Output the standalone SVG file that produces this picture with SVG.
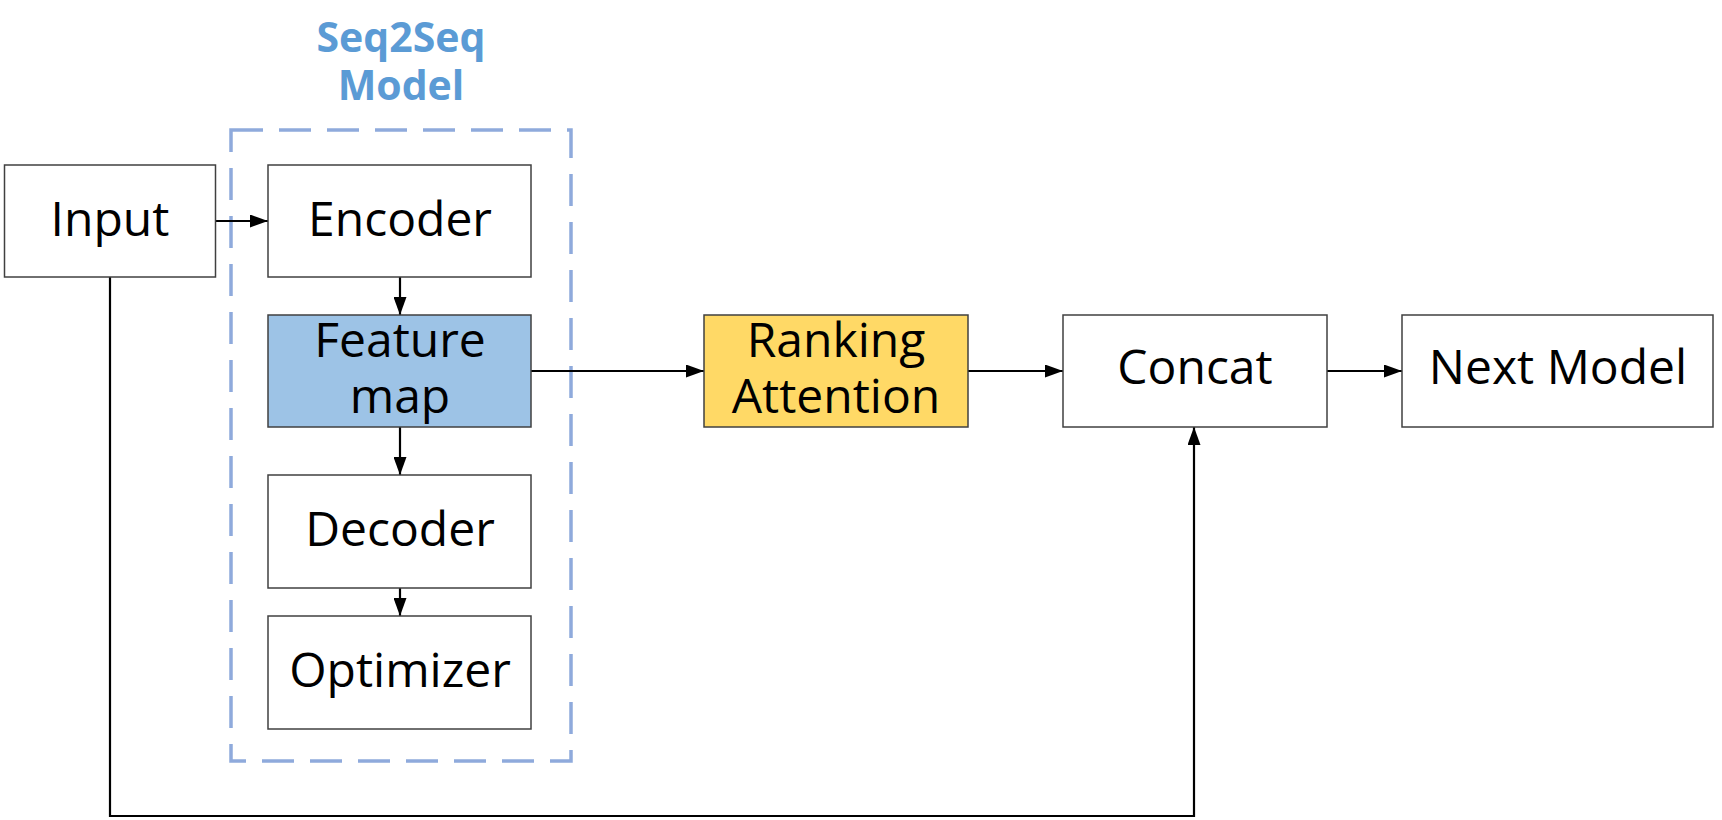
<svg xmlns="http://www.w3.org/2000/svg" width="1722" height="820" viewBox="0 0 1722 820">
<defs>
<marker id="arr" markerUnits="userSpaceOnUse" markerWidth="18" markerHeight="13" refX="18" refY="6.5" orient="auto">
<path d="M0,0 L18,6.5 L0,13 Z" fill="#000"/>
</marker>
</defs>
<style>
.box{stroke:#404040;stroke-width:1.5;fill:#fff}
.t{font-family:"Open Sans","Noto Sans","Liberation Sans",sans-serif;font-size:48px;fill:#000;text-anchor:middle}
.title{font-family:"Open Sans","Noto Sans","Liberation Sans",sans-serif;font-size:41px;font-weight:bold;fill:#5B9BD5;text-anchor:middle}
.c{stroke:#000;stroke-width:2.2;fill:none}
</style>
<rect width="1722" height="820" fill="#fff"/>
<g id="group-seq2seq">
<rect x="231" y="130" width="340" height="631" fill="none" stroke="#8FAADC" stroke-width="3.5" stroke-dasharray="32 16"/>
<text class="title" x="401" y="52">Seq2Seq</text>
<text class="title" x="401" y="100">Model</text>
</g>
<g id="connectors">
<line class="c" x1="216" y1="221" x2="268" y2="221" marker-end="url(#arr)"/>
<line class="c" x1="400" y1="277" x2="400" y2="315" marker-end="url(#arr)"/>
<line class="c" x1="400" y1="427" x2="400" y2="475" marker-end="url(#arr)"/>
<line class="c" x1="400" y1="588" x2="400" y2="616" marker-end="url(#arr)"/>
<line class="c" x1="531" y1="371" x2="704" y2="371" marker-end="url(#arr)"/>
<line class="c" x1="968" y1="371" x2="1063" y2="371" marker-end="url(#arr)"/>
<line class="c" x1="1327" y1="371" x2="1402" y2="371" marker-end="url(#arr)"/>
<path class="c" d="M110,277 V816 H1194 V427" marker-end="url(#arr)" stroke-width="2.6"/>
</g>
<g id="input">
<rect class="box" x="4.5" y="165" width="211" height="112"/>
<text class="t" x="110" y="236">Input</text>
</g>
<g id="encoder">
<rect class="box" x="268" y="165" width="263" height="112"/>
<text class="t" x="400" y="236">Encoder</text>
</g>
<g id="feature-map">
<rect class="box" x="268" y="315" width="263" height="112" style="fill:#9DC3E6"/>
<text class="t" x="400" y="357">Feature</text>
<text class="t" x="400" y="413">map</text>
</g>
<g id="decoder">
<rect class="box" x="268" y="475" width="263" height="113"/>
<text class="t" x="400" y="546">Decoder</text>
</g>
<g id="optimizer">
<rect class="box" x="268" y="616" width="263" height="113"/>
<text class="t" x="400" y="687">Optimizer</text>
</g>
<g id="ranking-attention">
<rect class="box" x="704" y="315" width="264" height="112" style="fill:#FFD966"/>
<text class="t" x="836" y="357">Ranking</text>
<text class="t" x="836" y="413">Attention</text>
</g>
<g id="concat">
<rect class="box" x="1063" y="315" width="264" height="112"/>
<text class="t" x="1195" y="384">Concat</text>
</g>
<g id="next-model">
<rect class="box" x="1402" y="315" width="311" height="112"/>
<text class="t" x="1558" y="384">Next Model</text>
</g>
</svg>
